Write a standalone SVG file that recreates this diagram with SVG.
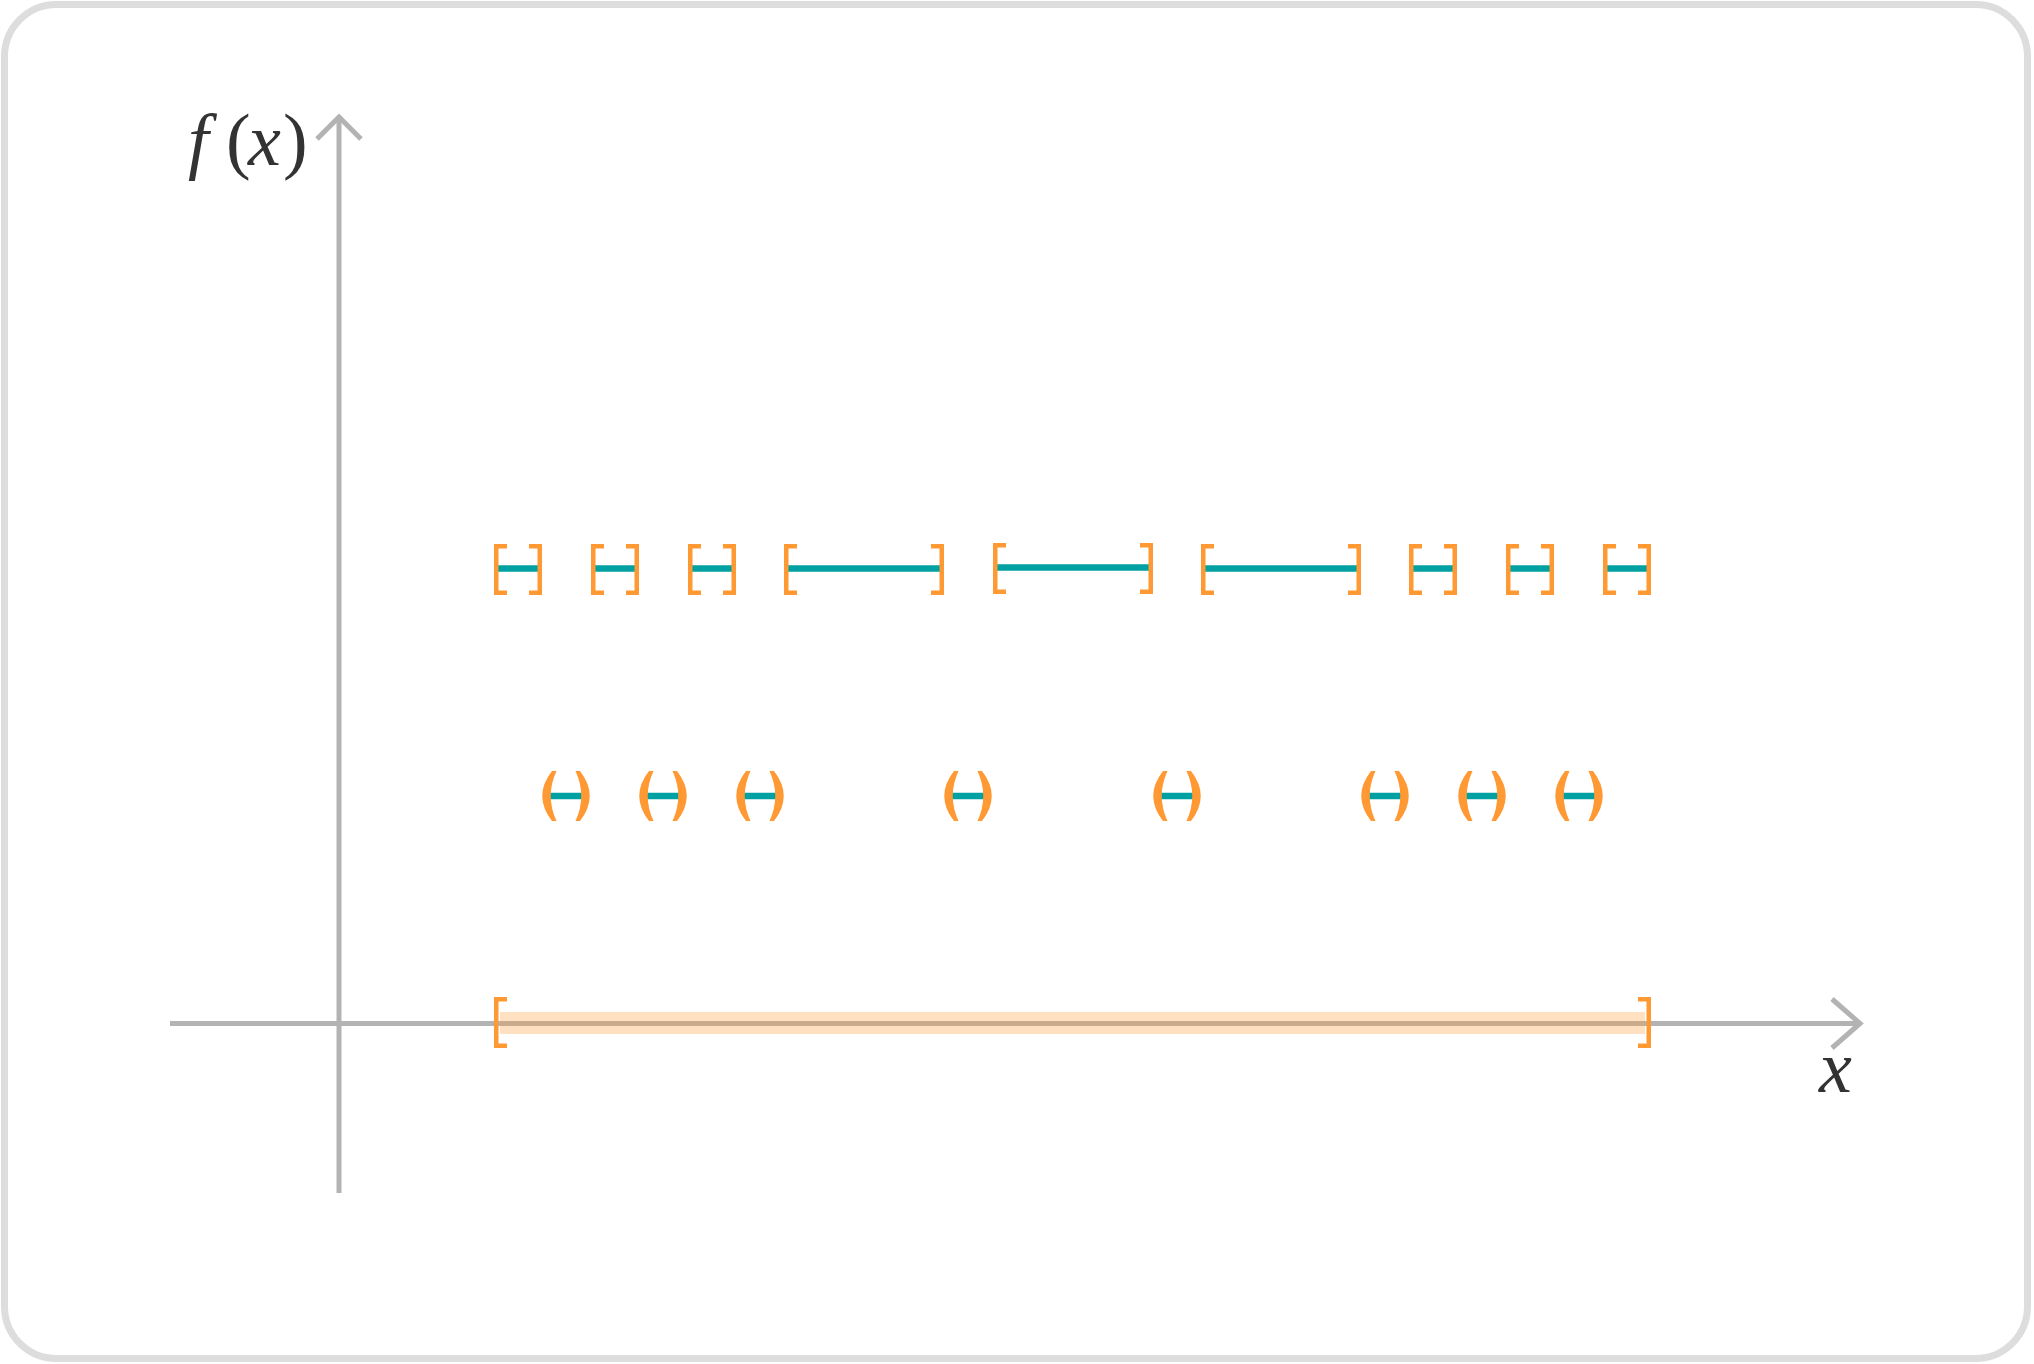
<svg xmlns="http://www.w3.org/2000/svg" width="2034" height="1364" viewBox="0 0 2034 1364">
<style>
.ax{stroke:#b3b3b3;stroke-width:5;fill:none}
.br{stroke:#ff9933;stroke-width:4.5;fill:none;stroke-linejoin:miter}
.pa{fill:#ff9933}
.seg{stroke:#00a0a3;stroke-width:6.5}
.lbl{font-family:"Liberation Serif",serif;fill:#333333;font-size:74px}
</style>
<defs>
<path id="lb" class="br" d="M13,2.25 H2.25 V48.75 H13"/>
<path id="rb" class="br" d="M-13,2.25 H-2.25 V48.75 H-13"/>
<path id="lp" class="pa" d="M10,0 Q-9.5,25 10,50 L14.5,50 Q3,25 14.5,0 Z"/>
<path id="rp" class="pa" d="M-10,0 Q9.5,25 -10,50 L-14.5,50 Q-3,25 -14.5,0 Z"/>
</defs>
<rect x="4.5" y="4.5" width="2023" height="1354" rx="52" ry="52" fill="#ffffff" stroke="#dddddd" stroke-width="7"/>
<g id="connectors">
<path class="ax" d="M339,1193 V118"/>
<path class="ax" d="M317,139 L339,117 L361,139"/>
<path class="ax" d="M170,1023.5 H1859"/>
<path class="ax" d="M1832,999 L1860,1023.5 L1832,1048"/>
</g>
<g id="domain">
<rect x="500" y="1012" width="1145" height="22" fill="#ff9933" fill-opacity="0.3"/>
<use href="#lb" x="494" y="997"/>
<use href="#rb" x="1651" y="997"/>
</g>
<g id="closed-intervals">
<g id="c1"><line class="seg" x1="498" y1="568.5" x2="538" y2="568.5"/><use href="#lb" x="494" y="544"/><use href="#rb" x="542" y="544"/></g>
<g id="c2"><line class="seg" x1="595" y1="568.5" x2="635" y2="568.5"/><use href="#lb" x="591" y="544"/><use href="#rb" x="639" y="544"/></g>
<g id="c3"><line class="seg" x1="692" y1="568.5" x2="732" y2="568.5"/><use href="#lb" x="688" y="544"/><use href="#rb" x="736" y="544"/></g>
<g id="c4"><line class="seg" x1="788" y1="568.5" x2="940" y2="568.5"/><use href="#lb" x="784" y="544"/><use href="#rb" x="944" y="544"/></g>
<g id="c5"><line class="seg" x1="997" y1="567.5" x2="1149" y2="567.5"/><use href="#lb" x="993" y="543"/><use href="#rb" x="1153" y="543"/></g>
<g id="c6"><line class="seg" x1="1205" y1="568.5" x2="1357" y2="568.5"/><use href="#lb" x="1201" y="544"/><use href="#rb" x="1361" y="544"/></g>
<g id="c7"><line class="seg" x1="1413" y1="568.5" x2="1453" y2="568.5"/><use href="#lb" x="1409" y="544"/><use href="#rb" x="1457" y="544"/></g>
<g id="c8"><line class="seg" x1="1510" y1="568.5" x2="1550" y2="568.5"/><use href="#lb" x="1506" y="544"/><use href="#rb" x="1554" y="544"/></g>
<g id="c9"><line class="seg" x1="1607" y1="568.5" x2="1647" y2="568.5"/><use href="#lb" x="1603" y="544"/><use href="#rb" x="1651" y="544"/></g>
</g>
<g id="open-intervals">
<g id="o1"><line class="seg" x1="547" y1="796" x2="585" y2="796"/><use href="#lp" x="542" y="771"/><use href="#rp" x="590" y="771"/></g>
<g id="o2"><line class="seg" x1="644" y1="796" x2="682" y2="796"/><use href="#lp" x="639" y="771"/><use href="#rp" x="687" y="771"/></g>
<g id="o3"><line class="seg" x1="741" y1="796" x2="779" y2="796"/><use href="#lp" x="736" y="771"/><use href="#rp" x="784" y="771"/></g>
<g id="o4"><line class="seg" x1="949" y1="796" x2="987" y2="796"/><use href="#lp" x="944" y="771"/><use href="#rp" x="992" y="771"/></g>
<g id="o5"><line class="seg" x1="1158" y1="796" x2="1196" y2="796"/><use href="#lp" x="1153" y="771"/><use href="#rp" x="1201" y="771"/></g>
<g id="o6"><line class="seg" x1="1366" y1="796" x2="1404" y2="796"/><use href="#lp" x="1361" y="771"/><use href="#rp" x="1409" y="771"/></g>
<g id="o7"><line class="seg" x1="1463" y1="796" x2="1501" y2="796"/><use href="#lp" x="1458" y="771"/><use href="#rp" x="1506" y="771"/></g>
<g id="o8"><line class="seg" x1="1560" y1="796" x2="1598" y2="796"/><use href="#lp" x="1555" y="771"/><use href="#rp" x="1603" y="771"/></g>
</g>
<g id="labels">
<text class="lbl" y="165"><tspan x="188" font-style="italic">f</tspan><tspan x="226">(</tspan><tspan x="248" font-style="italic">x</tspan><tspan x="283">)</tspan></text>
<text class="lbl" x="1819" y="1092" font-style="italic">x</text>
</g>
</svg>
